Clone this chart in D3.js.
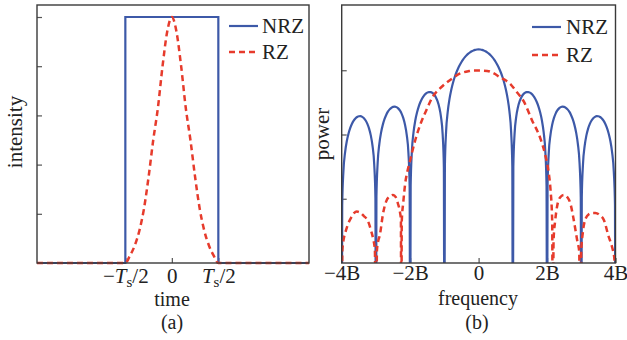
<!DOCTYPE html>
<html><head><meta charset="utf-8">
<script src="https://cdn.jsdelivr.net/npm/d3@7"></script>
<style>
body{margin:0;background:#fff;}
svg text{font-family:"Liberation Serif","Times New Roman",serif;fill:#222;}
</style></head><body><svg id="c" width="627" height="340"></svg>
<script>
// ---------- Panel (a): time domain ----------
const seriesNames = ["NRZ", "RZ"];
const nrzTime = [-1.45, -0.5, -0.5, 0.5, 0.5, 1.475];
const nrzIntensity = [0, 0, 1, 1, 0, 0];
const rzTime = [-1.45, -0.5, -0.45, -0.4, -0.35, -0.3, -0.25, -0.2, -0.15, -0.1, -0.05, 0, 0.05, 0.1, 0.15, 0.2, 0.25, 0.3, 0.35, 0.4, 0.45, 0.5, 1.475];
const rzIntensity = [0, 0, 0.03, 0.07, 0.13, 0.22, 0.35, 0.5, 0.63, 0.8, 0.94, 1, 0.94, 0.8, 0.63, 0.5, 0.35, 0.22, 0.13, 0.07, 0.03, 0, 0];
const timeTicks = [-0.5, 0, 0.5];
const timeTickLabels = ["−T|s|/2", "0", "T|s|/2"];
const intensityTicks = [0.2, 0.4, 0.6, 0.8, 1.0];

// ---------- Panel (b): frequency domain (power, dB) ----------
const nrzSpectrum = [
 [-4,-120],[-3.985,-61.99],[-3.95,-51.48],[-3.9,-45.46],[-3.85,-42.01],[-3.8,-39.66],[-3.75,-37.93],[-3.7,-36.64],[-3.65,-35.69],[-3.6,-35.01],[-3.55,-34.56],[-3.5,-34.32],[-3.45,-34.31],[-3.4,-34.51],[-3.35,-34.94],[-3.3,-35.65],[-3.25,-36.69],[-3.2,-38.16],[-3.15,-40.27],[-3.1,-43.47],[-3.05,-49.24],[-3.015,-59.57],
 [-3,-120],[-2.985,-59.48],[-2.95,-48.95],[-2.9,-42.89],[-2.85,-39.4],[-2.8,-37.0],[-2.75,-35.24],[-2.7,-33.91],[-2.65,-32.9],[-2.6,-32.18],[-2.55,-31.68],[-2.5,-31.4],[-2.45,-31.33],[-2.4,-31.48],[-2.35,-31.86],[-2.3,-32.51],[-2.25,-33.49],[-2.2,-34.91],[-2.15,-36.95],[-2.1,-40.08],[-2.05,-45.79],[-2.015,-56.07],
 [-2,-120],[-1.985,-55.94],[-1.95,-45.35],[-1.9,-39.22],[-1.85,-35.64],[-1.8,-33.17],[-1.75,-31.31],[-1.7,-29.89],[-1.65,-28.79],[-1.6,-27.96],[-1.55,-27.36],[-1.5,-26.96],[-1.45,-26.78],[-1.4,-26.8],[-1.35,-27.05],[-1.3,-27.56],[-1.25,-28.39],[-1.2,-29.64],[-1.15,-31.51],[-1.1,-34.47],[-1.05,-39.97],[-1.015,-50.11],
 [-1,-120],[-0.985,-49.85],[-0.95,-39.1],[-0.9,-32.72],[-0.85,-28.89],[-0.8,-26.12],[-0.75,-23.95],[-0.7,-22.18],[-0.65,-20.7],[-0.6,-19.44],[-0.55,-18.36],[-0.5,-17.42],[-0.45,-16.61],[-0.4,-15.92],[-0.35,-15.32],[-0.3,-14.82],[-0.25,-14.41],[-0.2,-14.08],[-0.15,-13.82],[-0.1,-13.64],[-0.05,-13.54],
 [0,-13.5],
 [0.05,-13.54],[0.1,-13.64],[0.15,-13.82],[0.2,-14.08],[0.25,-14.41],[0.3,-14.82],[0.35,-15.32],[0.4,-15.92],[0.45,-16.61],[0.5,-17.42],[0.55,-18.36],[0.6,-19.44],[0.65,-20.7],[0.7,-22.18],[0.75,-23.95],[0.8,-26.12],[0.85,-28.89],[0.9,-32.72],[0.95,-39.1],[0.985,-49.85],
 [1,-120],[1.015,-50.11],[1.05,-39.97],[1.1,-34.47],[1.15,-31.51],[1.2,-29.64],[1.25,-28.39],[1.3,-27.56],[1.35,-27.05],[1.4,-26.8],[1.45,-26.78],[1.5,-26.96],[1.55,-27.36],[1.6,-27.96],[1.65,-28.79],[1.7,-29.89],[1.75,-31.31],[1.8,-33.17],[1.85,-35.64],[1.9,-39.22],[1.95,-45.35],[1.985,-55.94],
 [2,-120],[2.015,-56.07],[2.05,-45.79],[2.1,-40.08],[2.15,-36.95],[2.2,-34.91],[2.25,-33.49],[2.3,-32.51],[2.35,-31.86],[2.4,-31.48],[2.45,-31.33],[2.5,-31.4],[2.55,-31.68],[2.6,-32.18],[2.65,-32.9],[2.7,-33.91],[2.75,-35.24],[2.8,-37.0],[2.85,-39.4],[2.9,-42.89],[2.95,-48.95],[2.985,-59.48],
 [3,-120],[3.015,-59.57],[3.05,-49.24],[3.1,-43.47],[3.15,-40.27],[3.2,-38.16],[3.25,-36.69],[3.3,-35.65],[3.35,-34.94],[3.4,-34.51],[3.45,-34.31],[3.5,-34.32],[3.55,-34.56],[3.6,-35.01],[3.65,-35.69],[3.7,-36.64],[3.75,-37.93],[3.8,-39.66],[3.85,-42.01],[3.9,-45.46],[3.95,-51.48],[3.985,-61.99],
 [4,-120]
];
const rzSpectrum = [
 [-4,-120],[-3.98,-76],[-3.94,-72.5],[-3.88,-70],[-3.8,-67.5],[-3.72,-65.8],[-3.64,-64.5],[-3.56,-64.0],[-3.46,-64.3],[-3.36,-65.3],[-3.23,-67],[-3.14,-70],[-3.08,-72.5],[-3.03,-76],
 [-3,-120],[-2.97,-76],[-2.93,-73],[-2.89,-71.5],[-2.79,-64.5],[-2.7,-60.8],[-2.6,-59.3],[-2.5,-58.8],[-2.42,-59.5],[-2.36,-61.4],[-2.3,-64],[-2.27,-66.5],
 [-2.26,-120],[-2.245,-67],[-2.2,-61],[-2.15,-55.7],[-2.07,-51],[-2,-48],[-1.85,-41.7],[-1.7,-36.8],[-1.5,-31.8],[-1.36,-28.6],[-1.12,-25.6],[-0.83,-23.0],[-0.54,-21.0],[-0.3,-20.3],[-0.16,-20.1],
 [0.05,-20.1],[0.25,-20.2],[0.45,-21.0],[0.63,-22.2],[0.8,-23.2],[0.93,-24.3],[1.1,-26.6],[1.32,-29.7],[1.55,-35.3],[1.82,-41.7],[1.95,-46.5],[2.05,-52],[2.1,-57],[2.15,-67],
 [2.17,-120],[2.19,-73],[2.24,-66.6],[2.3,-62],[2.38,-59.6],[2.49,-58.8],[2.6,-59.6],[2.68,-61.4],[2.78,-66.6],[2.88,-72.9],[2.94,-76.5],
 [2.97,-120],[3.0,-76],[3.04,-71],[3.1,-67],[3.22,-64.8],[3.33,-64.4],[3.41,-64.4],[3.55,-65.2],[3.66,-66.6],[3.8,-71.8],[3.9,-75],[3.97,-79],
 [4,-120]
];
const freqTicks = [-4, -2, 0, 2, 4];
const freqTickLabels = ["−4B", "−2B", "0", "2B", "4B"];
const powerTicks = [-60, -40, -20];

const BLUE = "#3d59a8", RED = "#e63b2c", FRAME = "#3a3a3a";
const FS = 21, FL = 20;
const svg = d3.select("#c");

function styleAxis(g){
  g.select(".domain").remove();
  g.selectAll(".tick line").attr("stroke", "#555").attr("stroke-width", 1.2);
  g.selectAll(".tick text").attr("font-size", FS).attr("fill", "#222")
    .attr("font-family", '"Liberation Serif","Times New Roman",serif');
}

// ===== Panel (a) =====
const A = {l:37, r:309, t:5, b:263};
const xa = d3.scaleLinear().domain([-1.45, 1.475]).range([A.l, A.r]);
const ya = d3.scaleLinear().domain([0, 1.0488]).range([A.b, A.t]);
const ga = svg.append("g");

ga.append("g").attr("transform", `translate(0,${A.b})`)
  .call(d3.axisBottom(xa).tickValues(timeTicks).tickSize(-5).tickPadding(9).tickFormat(""))
  .call(styleAxis)
  .call(g => g.selectAll(".tick").each(function(d, i){
      const t = d3.select(this).append("text").attr("y", 20).attr("text-anchor", "middle")
        .attr("font-size", FS);
      const parts = timeTickLabels[i].split("|");
      if (parts.length === 1) { t.text(parts[0]); return; }
      const pre = parts[0];
      if (pre.startsWith("−")) t.append("tspan").text("−");
      t.append("tspan").attr("font-style", "italic").text("T");
      t.append("tspan").attr("font-size", 15).attr("dy", 4).text(parts[1]);
      t.append("tspan").attr("dy", -4).text(parts[2]);
  }));
ga.append("g").attr("transform", `translate(${A.l},0)`)
  .call(d3.axisLeft(ya).tickValues(intensityTicks).tickSize(-5).tickFormat(""))
  .call(styleAxis);

const lineA = d3.line().x(d => xa(d[0])).y(d => ya(d[1]));
ga.append("path").datum(nrzTime.map((t, i) => [t, nrzIntensity[i]]))
  .attr("d", lineA).attr("fill", "none").attr("stroke", BLUE).attr("stroke-width", 2.2);
ga.append("path").datum(rzTime.map((t, i) => [t, rzIntensity[i]]))
  .attr("d", lineA.curve(d3.curveMonotoneX)).attr("fill", "none").attr("stroke", RED)
  .attr("stroke-width", 2.5).attr("stroke-dasharray", "6,4");
ga.append("rect").attr("x", A.l).attr("y", A.t).attr("width", A.r - A.l).attr("height", A.b - A.t)
  .attr("fill", "none").attr("stroke", FRAME).attr("stroke-width", 1.4);

ga.append("text").attr("x", 172).attr("y", 306).attr("text-anchor", "middle").attr("font-size", FL).text("time");
ga.append("text").attr("x", 172).attr("y", 329).attr("text-anchor", "middle").attr("font-size", FL).text("(a)");
ga.append("text").attr("transform", "translate(22,132) rotate(-90)").attr("text-anchor", "middle").attr("font-size", FS).text("intensity");

function legend(g, x0, y0, gap, tx){
  [[BLUE, null, 2.2], [RED, "6,4", 2.5]].forEach((s, i) => {
    const y = y0 + i * gap;
    g.append("line").attr("x1", x0).attr("x2", x0 + 29).attr("y1", y).attr("y2", y)
      .attr("stroke", s[0]).attr("stroke-width", s[2]).attr("stroke-dasharray", s[1]);
    g.append("text").attr("x", tx).attr("y", y + 7).attr("font-size", FS).text(seriesNames[i]);
  });
}
legend(ga, 229, 26, 26, 262);

// ===== Panel (b) =====
const B = {l:341.7, r:615.5, t:5, b:263};
const xb = d3.scaleLinear().domain([-4, 4]).range([B.l, B.r]);
const yb = d3.scaleLinear().domain([-80, 0]).range([B.b, 6]);
const gb = svg.append("g");
svg.append("defs").append("clipPath").attr("id", "clipB").append("rect")
  .attr("x", B.l).attr("y", B.t).attr("width", B.r - B.l).attr("height", B.b - B.t);

gb.append("g").attr("transform", `translate(0,${B.b})`)
  .call(d3.axisBottom(xb).tickValues(freqTicks).tickSize(-5).tickPadding(2)
    .tickFormat((d, i) => freqTickLabels[i]))
  .call(styleAxis);
gb.append("g").attr("transform", `translate(${B.l},0)`)
  .call(d3.axisLeft(yb).tickValues(powerTicks).tickSize(-5).tickFormat(""))
  .call(styleAxis);

const lineB = d3.line().x(d => xb(d[0])).y(d => yb(d[1])).curve(d3.curveMonotoneX);
const plotB = gb.append("g").attr("clip-path", "url(#clipB)");
plotB.append("path").datum(nrzSpectrum).attr("d", lineB).attr("fill", "none")
  .attr("stroke", BLUE).attr("stroke-width", 2.2);
plotB.append("path").datum(rzSpectrum).attr("d", lineB).attr("fill", "none")
  .attr("stroke", RED).attr("stroke-width", 2.5).attr("stroke-dasharray", "6,4");
gb.append("rect").attr("x", B.l).attr("y", B.t).attr("width", B.r - B.l).attr("height", B.b - B.t)
  .attr("fill", "none").attr("stroke", FRAME).attr("stroke-width", 1.4);

gb.append("text").attr("x", 478).attr("y", 305).attr("text-anchor", "middle").attr("font-size", FL).text("frequency");
gb.append("text").attr("x", 477).attr("y", 329).attr("text-anchor", "middle").attr("font-size", FL).text("(b)");
gb.append("text").attr("transform", "translate(329,134) rotate(-90)").attr("text-anchor", "middle").attr("font-size", FS).text("power");
legend(gb, 532, 27, 28, 566);
</script></body></html>
